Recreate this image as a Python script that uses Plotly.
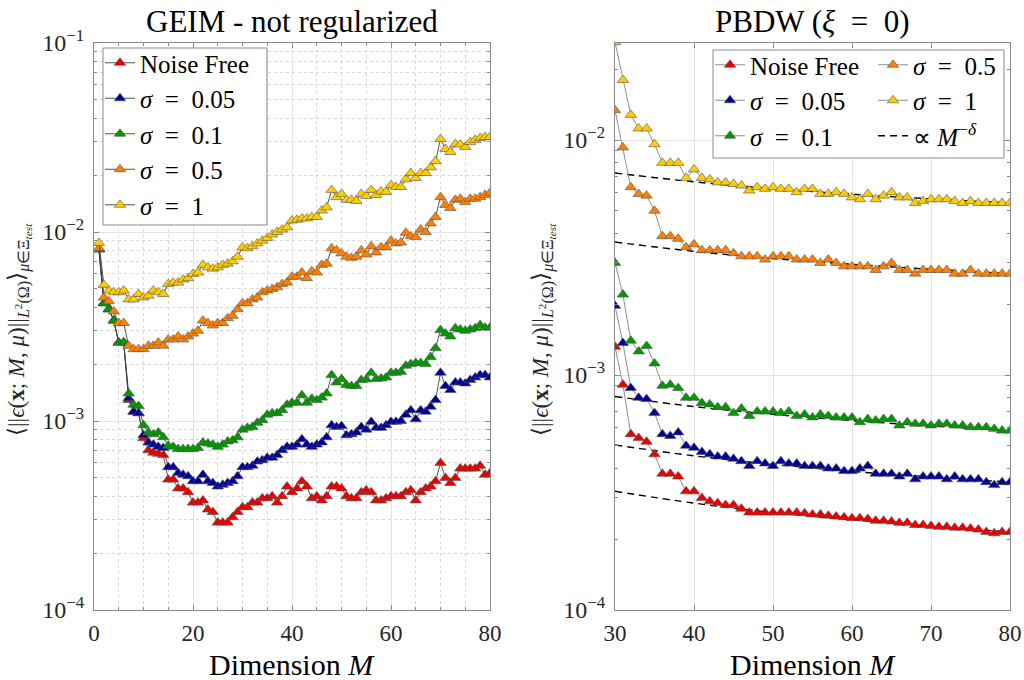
import plotly.graph_objects as go

# ---------------- data ----------------
M_geim = list(range(1, 81))
M_pbdw = list(range(30, 81))
fit_M = [30, 40, 50, 60, 70, 80]

EQ = "\u2002=\u2002"
series_names = ["Noise Free", "<i>σ</i>" + EQ + "0.05", "<i>σ</i>" + EQ + "0.1",
                "<i>σ</i>" + EQ + "0.5", "<i>σ</i>" + EQ + "1"]
fit_name = "∝ <i>M</i><sup>−<i>δ</i></sup>"

geim_noise_free = [
    0.0081, 0.0042, 0.0039, 0.0034, 0.0026, 0.0026, 0.00129, 0.00112, 0.0011, 0.00081,
    0.00070, 0.00068, 0.00067, 0.00066, 0.00049, 0.00049, 0.00044, 0.00044, 0.00042, 0.00037,
    0.00037, 0.00038, 0.00034, 0.00033, 0.00029, 0.00029, 0.00029, 0.00031, 0.00033, 0.00035,
    0.00035, 0.00037, 0.00037, 0.00039, 0.00039, 0.00040, 0.00037, 0.00040, 0.00045, 0.00042,
    0.00044, 0.00048, 0.00045, 0.00039, 0.00040, 0.00038, 0.00040, 0.00045, 0.00045, 0.00044,
    0.00040, 0.00039, 0.00039, 0.00042, 0.00043, 0.00042, 0.00038, 0.00038, 0.00039, 0.00040,
    0.00040, 0.00040, 0.00042, 0.00043, 0.00038, 0.00042, 0.00044, 0.00045, 0.00048, 0.00060,
    0.00050, 0.00047, 0.00050, 0.00056, 0.00056, 0.00056, 0.00056, 0.00058, 0.00052, 0.00053]
geim_s005 = [
    0.0081, 0.0042, 0.0039, 0.0034, 0.0026, 0.0026, 0.00132, 0.00112, 0.0011, 0.00084,
    0.00077, 0.00075, 0.00073, 0.00072, 0.00057, 0.00057, 0.00053, 0.00052, 0.00051, 0.00048,
    0.00048, 0.00052, 0.00048, 0.00047, 0.00045, 0.00046, 0.00047, 0.00048, 0.00051, 0.00057,
    0.00057, 0.00058, 0.00061, 0.00062, 0.00064, 0.00064, 0.00066, 0.00070, 0.00073, 0.00073,
    0.00075, 0.00080, 0.00075, 0.00073, 0.00075, 0.00077, 0.00082, 0.00095, 0.00093, 0.00094,
    0.00084, 0.00085, 0.00087, 0.00093, 0.00090, 0.00099, 0.00092, 0.00092, 0.00095, 0.00099,
    0.00099, 0.00100, 0.00108, 0.00114, 0.00102, 0.00114, 0.00112, 0.00119, 0.00129, 0.00180,
    0.00153, 0.00146, 0.00160, 0.00160, 0.00158, 0.00165, 0.00170, 0.00175, 0.00175, 0.00170]
geim_s01 = [
    0.0081, 0.0042, 0.0039, 0.0034, 0.0026, 0.0026, 0.0014, 0.00122, 0.0012, 0.00095,
    0.00087, 0.00085, 0.00087, 0.00082, 0.00074, 0.00073, 0.00071, 0.00071, 0.00071, 0.00071,
    0.00072, 0.00077, 0.00076, 0.00075, 0.00073, 0.00075, 0.00078, 0.00079, 0.00082, 0.00090,
    0.00092, 0.00093, 0.00098, 0.00101, 0.00108, 0.00110, 0.00110, 0.00114, 0.00122, 0.00125,
    0.00125, 0.00137, 0.00125, 0.00131, 0.00129, 0.00133, 0.00140, 0.00175, 0.00160, 0.00167,
    0.00155, 0.00153, 0.00153, 0.00165, 0.00166, 0.00180, 0.00167, 0.00168, 0.00170, 0.00180,
    0.00180, 0.00182, 0.00196, 0.00200, 0.00203, 0.00203, 0.00200, 0.00218, 0.00243, 0.00303,
    0.00290, 0.00280, 0.00310, 0.00305, 0.00300, 0.00305, 0.00310, 0.00322, 0.00312, 0.00312]
geim_s05 = [
    0.0082, 0.0045, 0.0043, 0.0038, 0.0033, 0.0033, 0.0025, 0.0024, 0.0024, 0.0024,
    0.0025, 0.0025, 0.0026, 0.0025, 0.0027, 0.0027, 0.0028, 0.0027, 0.0028, 0.0029,
    0.0030, 0.0034, 0.0033, 0.0032, 0.0033, 0.0033, 0.0035, 0.0036, 0.0039, 0.0042,
    0.0042, 0.0044, 0.0045, 0.0048, 0.0049, 0.0050, 0.0051, 0.0053, 0.0054, 0.0058,
    0.0058, 0.0061, 0.0057, 0.0062, 0.0061, 0.0067, 0.0068, 0.0082, 0.0080, 0.0077,
    0.0074, 0.0073, 0.0074, 0.0080, 0.0076, 0.0084, 0.0078, 0.0083, 0.0083, 0.0090,
    0.0087, 0.0088, 0.0099, 0.0095, 0.0094, 0.0103, 0.0100, 0.0111, 0.0120, 0.0153,
    0.0139, 0.0134, 0.0148, 0.0150, 0.0144, 0.0150, 0.0150, 0.0153, 0.0157, 0.0161]
geim_s1 = [
    0.00875, 0.00525, 0.0049, 0.0048, 0.0048, 0.0049, 0.0044, 0.0044, 0.0047, 0.0045,
    0.0046, 0.0049, 0.0048, 0.0047, 0.0053, 0.0054, 0.0054, 0.0056, 0.0057, 0.0060,
    0.0061, 0.0067, 0.0065, 0.0064, 0.0065, 0.0067, 0.0068, 0.0070, 0.0074, 0.0083,
    0.0082, 0.0084, 0.0087, 0.0090, 0.0093, 0.0097, 0.0100, 0.0103, 0.0106, 0.0115,
    0.0116, 0.0118, 0.0118, 0.0120, 0.0120, 0.0130, 0.0135, 0.0167, 0.0153, 0.0159,
    0.0148, 0.0148, 0.0146, 0.0159, 0.0155, 0.0167, 0.0157, 0.0164, 0.0163, 0.0177,
    0.0173, 0.0173, 0.0190, 0.0205, 0.0193, 0.0205, 0.0205, 0.0220, 0.0237, 0.0310,
    0.0275, 0.0265, 0.0292, 0.0290, 0.0282, 0.0299, 0.0307, 0.0314, 0.0318, 0.0318]

pbdw_noise_free = [
    0.00132, 0.00091, 0.00056, 0.00054, 0.00052, 0.00046, 0.00038, 0.00038, 0.00037, 0.00032,
    0.00032, 0.00030, 0.00029, 0.000285, 0.00028, 0.00028, 0.00027, 0.00026, 0.00026, 0.00026,
    0.00026, 0.00026, 0.00026, 0.00026, 0.000258, 0.000255, 0.000255, 0.000252, 0.00025, 0.000248,
    0.000246, 0.000246, 0.000244, 0.00024, 0.00024, 0.000238, 0.000235, 0.000235, 0.00023, 0.00023,
    0.000228, 0.000226, 0.000226, 0.000224, 0.000224, 0.000222, 0.00022, 0.000215, 0.000212, 0.000215,
    0.000215]
pbdw_s005 = [
    0.00197, 0.00137, 0.00088, 0.00080, 0.00079, 0.00069, 0.00056, 0.00055, 0.00057, 0.00050,
    0.00049, 0.00047, 0.00046, 0.00045, 0.00045, 0.00044, 0.00043, 0.00041, 0.00043, 0.00042,
    0.00041, 0.00043, 0.00042, 0.00042, 0.00041, 0.00041, 0.00041, 0.00040, 0.00040, 0.00039,
    0.00039, 0.00040, 0.00041, 0.00038, 0.00038, 0.00038, 0.00037, 0.00038, 0.00036, 0.00037,
    0.00037, 0.00037, 0.00036, 0.00037, 0.00036, 0.00036, 0.00036, 0.00035, 0.00034, 0.00035,
    0.00035]
pbdw_s01 = [
    0.0030, 0.0022, 0.0014, 0.00126, 0.00133, 0.00112, 0.00090, 0.00091, 0.00088, 0.00080,
    0.00080, 0.00076, 0.00075, 0.00073, 0.00073, 0.00069, 0.00072, 0.00067, 0.00070, 0.00070,
    0.00070, 0.00069, 0.00070, 0.00067, 0.00068, 0.00066, 0.00068, 0.00067, 0.00066, 0.00066,
    0.00066, 0.00063, 0.00065, 0.00064, 0.00065, 0.00065, 0.00061, 0.00063, 0.00062, 0.00062,
    0.00061, 0.00062, 0.00062, 0.00061, 0.00061, 0.00060, 0.00060, 0.00060, 0.00059, 0.00058,
    0.00058]
pbdw_s05 = [
    0.0134, 0.0093, 0.0063, 0.0059, 0.0058, 0.0050, 0.0039, 0.0039, 0.0038, 0.0035,
    0.0036, 0.0034, 0.0034, 0.0034, 0.0034, 0.0033, 0.0032, 0.0032, 0.0032, 0.0031,
    0.0032, 0.0032, 0.0032, 0.0031, 0.0031, 0.0031, 0.0030, 0.0031, 0.0030, 0.0029,
    0.0029, 0.0029, 0.0029, 0.0028, 0.0029, 0.0030, 0.0028, 0.0028, 0.0027, 0.0028,
    0.0028, 0.0028, 0.0028, 0.0027, 0.0027, 0.0028, 0.0027, 0.0027, 0.0027, 0.0027,
    0.0027]
pbdw_s1 = [
    0.0261, 0.0180, 0.0128, 0.0112, 0.0112, 0.0096, 0.0080, 0.0080, 0.0080, 0.0069,
    0.0075, 0.0069, 0.0068, 0.0066, 0.0066, 0.0065, 0.0064, 0.0061, 0.0063, 0.0062,
    0.0063, 0.0062, 0.0062, 0.0060, 0.0062, 0.0062, 0.0059, 0.0059, 0.0060, 0.0059,
    0.0057, 0.0056, 0.0059, 0.0056, 0.0058, 0.0060, 0.0057, 0.0057, 0.0054, 0.0055,
    0.0056, 0.0056, 0.0056, 0.0055, 0.0054, 0.0055, 0.0054, 0.0054, 0.0054, 0.0054,
    0.0054]

fit_noise_free = [0.00032, 0.000285, 0.00026, 0.000242, 0.000227, 0.000215]
fit_s005 = [0.000504, 0.000453, 0.000417, 0.000389, 0.000368, 0.00035]
fit_s01 = [0.00081, 0.000734, 0.00068, 0.00064, 0.000607, 0.00058]
fit_s05 = [0.00368, 0.00336, 0.00313, 0.00296, 0.00282, 0.0027]
fit_s1 = [0.00724, 0.00664, 0.00621, 0.00588, 0.00562, 0.0054]

y_major = [1e-4, 1e-3, 1e-2, 1e-1]
y_major_text = ["10<sup>−4</sup>", "10<sup>−3</sup>", "10<sup>−2</sup>", "10<sup>−1</sup>"]
y_minor = [m * 10.0 ** e for e in (-4, -3, -2) for m in range(2, 10)]

# ---------------- style ----------------
colors = ["#ee0000", "#000099", "#009900", "#ff8000", "#ffcc00"]
FONT = "Liberation Serif"
W, H = 1024, 680
LX0, LX1, RX0, RX1, Y0, Y1 = 94, 490, 615, 1010, 43, 610

def px(x):
    return x / W

def py(y):
    return 1 - y / H

fig = go.Figure()

geim = [geim_noise_free, geim_s005, geim_s01, geim_s05, geim_s1]
for name, col, vals in zip(series_names, colors, geim):
    fig.add_trace(go.Scatter(
        x=M_geim, y=vals, name=name, mode="lines+markers",
        line=dict(color="#404040", width=0.9),
        marker=dict(symbol="triangle-up", size=10, color=col, line=dict(color="#505050", width=0.6)),
        xaxis="x", yaxis="y", legend="legend", showlegend=True))

pbdw = [pbdw_noise_free, pbdw_s005, pbdw_s01, pbdw_s05, pbdw_s1]
fits = [fit_noise_free, fit_s005, fit_s01, fit_s05, fit_s1]
for i, fv in enumerate(fits):
    fig.add_trace(go.Scatter(
        x=fit_M, y=fv, name=fit_name, mode="lines", line_shape="spline",
        line=dict(color="black", width=1.4, dash="7px,5px"),
        xaxis="x2", yaxis="y2", legend="legend3", legendrank=10,
        showlegend=(i == 0)))
for i, (name, col, vals) in enumerate(zip(series_names, colors, pbdw)):
    fig.add_trace(go.Scatter(
        x=M_pbdw, y=vals, name=name, mode="lines+markers",
        line=dict(color="#808080", width=0.9),
        marker=dict(symbol="triangle-up", size=10, color=col, line=dict(color="#505050", width=0.6)),
        xaxis="x2", yaxis="y2", legend="legend2" if i < 3 else "legend3",
        legendrank=i, showlegend=True))

axis_common = dict(showline=True, linecolor="#8a8a8a", linewidth=1, mirror="ticks",
                   ticks="inside", ticklen=5, tickcolor="#8a8a8a", zeroline=False,
                   automargin=False, gridcolor="#e4e4e4", gridwidth=1, showgrid=True)
xtickfont = dict(family=FONT, size=23, color="#262626")
ytickfont = dict(family=FONT, size=24, color="#262626")

leg_common = dict(xanchor="left", yanchor="top", bgcolor="rgba(0,0,0,0)", borderwidth=0,
                  font=dict(family=FONT, size=25, color="black"), itemwidth=30)

fig.update_layout(
    width=W, height=H, margin=dict(l=0, r=0, t=0, b=0),
    paper_bgcolor="white", plot_bgcolor="white",
    font=dict(family=FONT, color="black"),
    xaxis=dict(domain=[px(LX0), px(LX1)], range=[0, 80], tickmode="array",
               tickvals=[0, 20, 40, 60, 80], anchor="y", ticklabelstandoff=2, tickfont=xtickfont,
               minor=dict(tickmode="linear", tick0=0, dtick=5, showgrid=True, griddash="dot",
                          gridcolor="#d8d8d8", ticks="inside", ticklen=3, tickcolor="#8a8a8a"),
               **axis_common),
    yaxis=dict(domain=[py(Y1), py(Y0)], type="log", range=[-4, -1], tickmode="array",
               tickvals=y_major, ticktext=y_major_text, anchor="x", ticklabelstandoff=4,
               tickfont=ytickfont,
               minor=dict(tickmode="array", tickvals=y_minor, showgrid=True, griddash="dot",
                          gridcolor="#d8d8d8", ticks="inside", ticklen=3, tickcolor="#8a8a8a"),
               **axis_common),
    xaxis2=dict(domain=[px(RX0), px(RX1)], range=[30, 80], tickmode="array",
                tickvals=[30, 40, 50, 60, 70, 80], anchor="y2", ticklabelstandoff=2,
                tickfont=xtickfont, **axis_common),
    yaxis2=dict(domain=[py(Y1), py(Y0)], type="log", range=[-4, -1.587], tickmode="array",
                tickvals=y_major[:3], ticktext=y_major_text[:3], anchor="x2", ticklabelstandoff=4,
                tickfont=ytickfont,
                minor=dict(tickmode="array", tickvals=y_minor, showgrid=False,
                           ticks="inside", ticklen=3, tickcolor="#8a8a8a"),
                **axis_common),
    legend=dict(x=px(100), y=py(40), **leg_common),
    legend2=dict(x=px(710), y=py(42), **leg_common),
    legend3=dict(x=px(873), y=py(42), **leg_common),
    shapes=[
        dict(type="rect", xref="paper", yref="paper",
             x0=px(103), x1=px(267), y0=py(225), y1=py(48),
             fillcolor="white", line=dict(color="#8a8a8a", width=1), layer="above"),
        dict(type="rect", xref="paper", yref="paper",
             x0=px(713), x1=px(1004), y0=py(158), y1=py(50),
             fillcolor="white", line=dict(color="#8a8a8a", width=1), layer="above")],
)

ytitle = ("⟨||<i>ϵ</i>(<b>x</b>; <i>M</i>, <i>μ</i>)||<sub><i>L</i><sup>2</sup>(Ω)</sub>"
          "⟩<sub><i>μ</i>∈Ξ<sub><i>test</i></sub></sub>")
annots = [
    dict(text="GEIM - not regularized", x=px((LX0 + LX1) / 2), y=py(21), size=31),
    dict(text="PBDW (<i>ξ</i>" + EQ + "0)", x=px((RX0 + RX1) / 2), y=py(21), size=31),
    dict(text="Dimension <i>M</i>", x=px((LX0 + LX1) / 2), y=py(664), size=30),
    dict(text="Dimension <i>M</i>", x=px((RX0 + RX1) / 2), y=py(664), size=30),
]
for a in annots:
    fig.add_annotation(text=a["text"], x=a["x"], y=a["y"], xref="paper", yref="paper",
                       showarrow=False, xanchor="center", yanchor="middle",
                       font=dict(family=FONT, size=a["size"], color="black"))
for xc in (19, 543):
    fig.add_annotation(text=ytitle, x=px(xc), y=py(330), xref="paper", yref="paper",
                       showarrow=False, textangle=-90, xanchor="center", yanchor="middle",
                       font=dict(family=FONT, size=23, color="#262626"))

fig.write_html("out.html")
